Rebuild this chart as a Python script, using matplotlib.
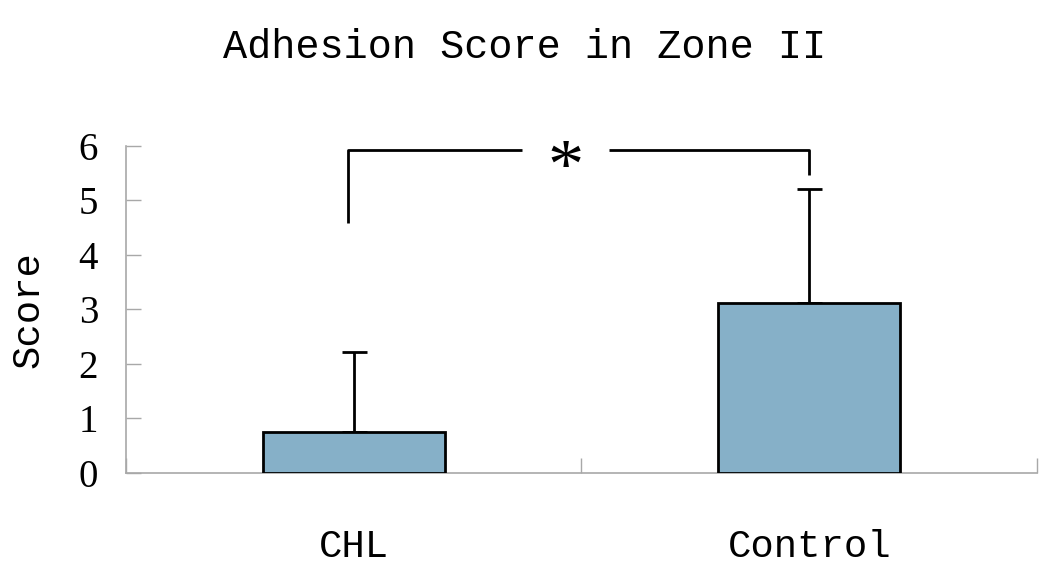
import matplotlib
matplotlib.use("Agg")
import matplotlib.pyplot as plt

groups = ["CHL", "Control"]
means = [0.75, 3.12]
errors = [1.47, 2.09]
yticks = [0, 1, 2, 3, 4, 5, 6]

bar_color = "#86B0C8"
axis_color = "#A8A8A8"
mono = "Liberation Mono"
serif = "Liberation Serif"

fig = plt.figure(figsize=(10.5, 5.83), dpi=100)
ax = fig.add_axes([0.12, 0.1887, 0.8676, 0.5609])

x = list(range(len(groups)))
ax.bar(x, means, width=0.4, color=bar_color, edgecolor="black", linewidth=2, zorder=3)
ax.errorbar(x, means, yerr=[[0] * len(errors), errors], fmt="none", ecolor="black",
            elinewidth=2, capsize=9, capthick=2, zorder=2)

# significance bracket
ax.plot([-0.013, -0.013, 0.37], [4.59, 5.93, 5.93], color="black", lw=2, solid_capstyle="butt")
ax.plot([0.56, 1.0, 1.0], [5.93, 5.93, 5.47], color="black", lw=2, solid_capstyle="butt")
ax.text(0.465, 5.55, "*", fontsize=52, fontfamily=serif, ha="center", va="center")

ax.set_xlim(-0.5, 1.5)
ax.set_ylim(0, 6)
ax.set_yticks(yticks)
ax.set_yticklabels([str(v) for v in yticks], fontfamily=serif, fontsize=28)
ax.set_xticks([-0.5, 0.5, 1.5])
ax.set_xticklabels([])
ax.set_xticks(x, minor=True)
ax.set_xticklabels(groups, minor=True, fontfamily=mono, fontsize=28)
ax.tick_params(axis="x", which="minor", length=0, pad=40)
ax.tick_params(axis="both", which="major", direction="in", length=11, width=1, color=axis_color)
ax.tick_params(axis="y", pad=20)

for s in ["top", "right"]:
    ax.spines[s].set_visible(False)
for s in ["left", "bottom"]:
    ax.spines[s].set_color(axis_color)
    ax.spines[s].set_linewidth(1.2)

fig.text(0.5, 1 - 47 / 583, "Adhesion Score in Zone II", fontfamily=mono, fontsize=29,
         ha="center", va="center")
fig.text(28 / 1050, 1 - 310 / 583, "Score", fontfamily=mono, fontsize=28, rotation=90,
         ha="center", va="center")

fig.savefig("out.png", dpi=100)
